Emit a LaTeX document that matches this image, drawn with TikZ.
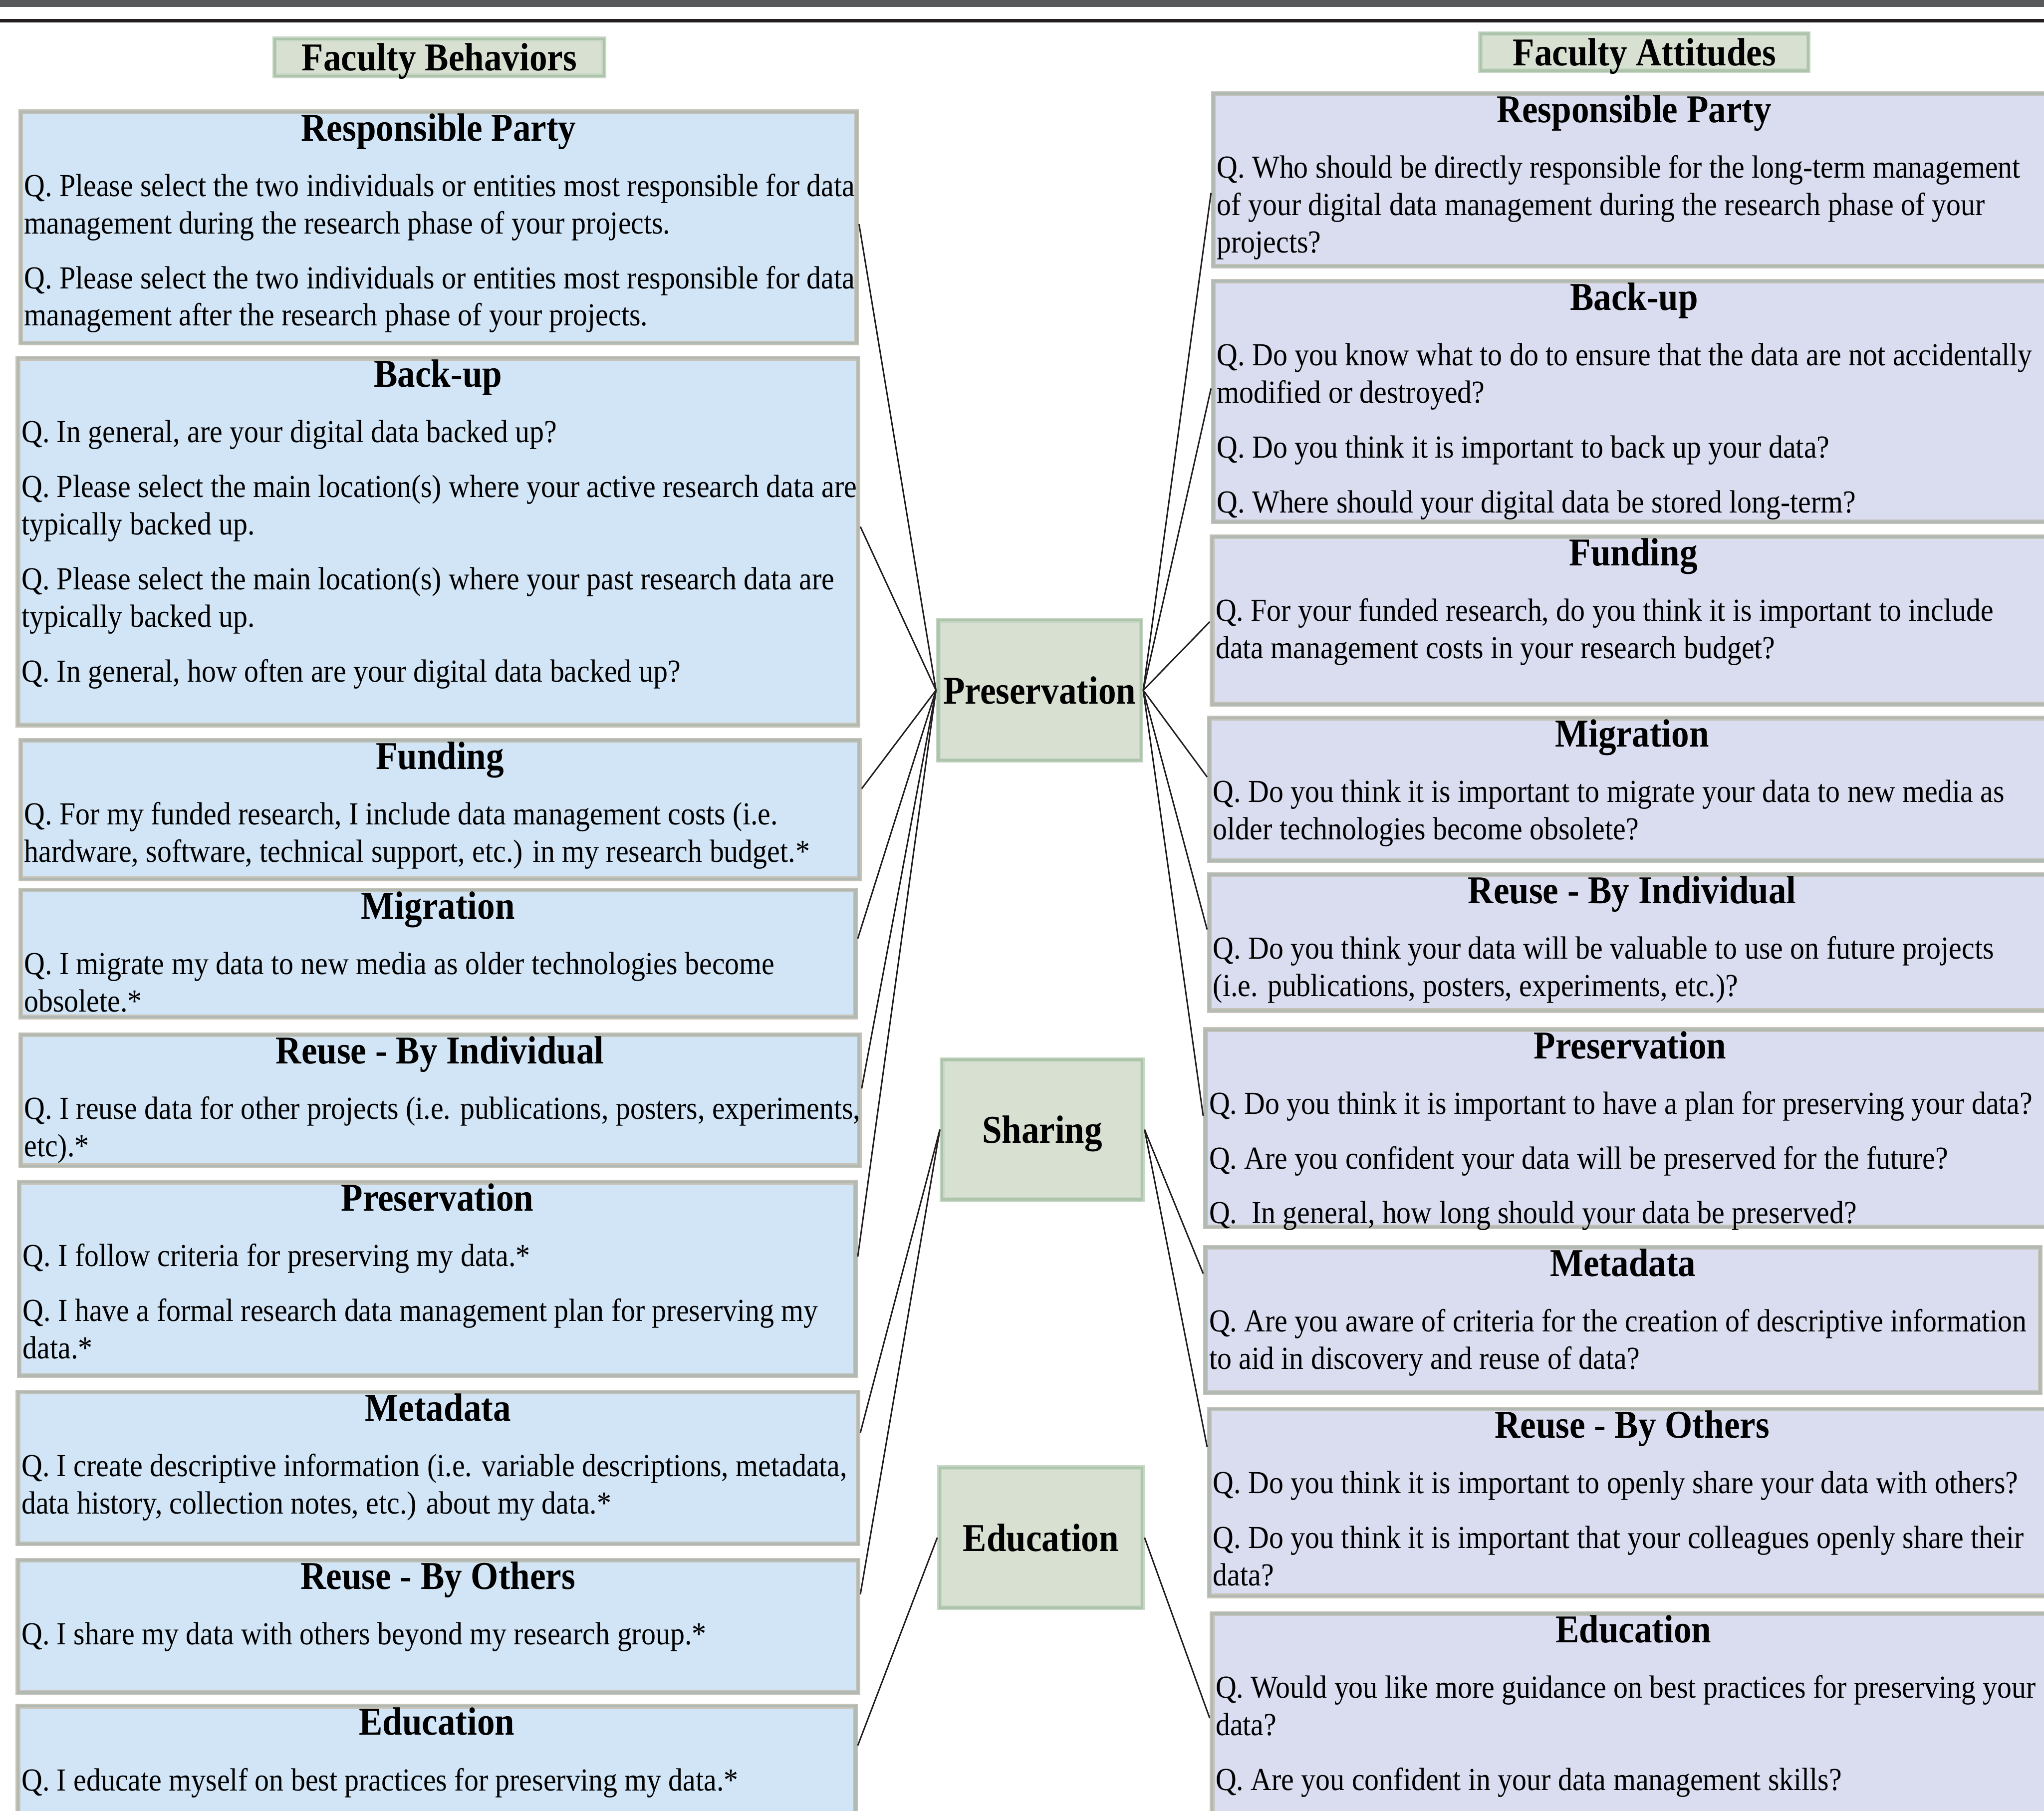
\documentclass[tikz,border=0pt]{standalone}
\usepackage{fontspec}
\setmainfont{Liberation Serif}[FakeStretch=0.9]
\usepackage{tikz}
\usepackage{xcolor}

\definecolor{barGray}{HTML}{58595B}
\definecolor{barBlack}{HTML}{231F20}
\definecolor{leftFill}{HTML}{D1E5F6}
\definecolor{rightFill}{HTML}{DADDF0}
\definecolor{greenFill}{HTML}{D8E0D2}
\definecolor{greenLight}{HTML}{C6D8C5}
\definecolor{greenDark}{HTML}{ADC4AA}
\definecolor{boxTan}{HTML}{C7C2B6}
\definecolor{boxGray}{HTML}{B1B9B5}

\newlength{\pxu}
\setlength{\pxu}{0.025cm}

\begin{document}
\begin{tikzpicture}[
            x = 0.025cm, y = -0.025cm, % one unit = one pixel, y runs down
            line width = 0.8pt, % line style
            every edge/.style = {draw = barBlack}
        ]

        \tikzstyle{qbox}=[
            draw = boxTan, double = boxGray,
            line width = 0.9\pxu, double distance = 1.8\pxu,
            outer sep = 1.8\pxu, inner sep = 0pt,
            anchor = north west
        ]
        \tikzstyle{lbox}=[qbox, fill = leftFill]
        \tikzstyle{rbox}=[qbox, fill = rightFill]
        \tikzstyle{gbox}=[
            draw = greenLight, double = greenDark,
            line width = 0.9\pxu, double distance = 1.8\pxu,
            outer sep = 1.8\pxu, inner sep = 0pt,
            fill = greenFill, anchor = north west,
            font = \fontsize{21.5}{24}\selectfont\bfseries,
            text height = 14.7pt, text depth = 0pt
        ]
        \tikzstyle{ttl}=[
            anchor = base, inner sep = 0pt, yshift = -24\pxu,
            font = \fontsize{21.5}{24}\selectfont\bfseries
        ]
        \tikzstyle{qtext}=[
            anchor = north west, inner sep = 0pt, align = left,
            xshift = 4\pxu, yshift = -47.7\pxu,
            font = \fontsize{17.5}{20.4}\selectfont
        ]

\useasboundingbox (0,0) rectangle (1568,1389);
\clip (0,0) rectangle (1568,1389);

% top rules
\fill[barGray] (0,0) rectangle (1568,5.2);
\fill[barBlack] (0,14.4) rectangle (1568,17.2);

% headings
\node[gbox, minimum width=252.4\pxu, minimum height=28.4\pxu] (hFB) at (209,28) {Faculty Behaviors};
\node[gbox, minimum width=251.4\pxu, minimum height=28.4\pxu] (hFA) at (1134,24) {Faculty Attitudes};

% centre themes
\node[gbox, minimum width=155.4\pxu, minimum height=107.4\pxu] (cPR) at (718,474) {Preservation};
\node[gbox, minimum width=153.4\pxu, minimum height=107.4\pxu] (cSH) at (721,811) {Sharing};
\node[gbox, minimum width=155.4\pxu, minimum height=107.4\pxu] (cED) at (719,1124) {Education};

% behaviours
\node[lbox, minimum width=641.4\pxu, minimum height=177.4\pxu] (lRP) at (14,84) {};
\node[ttl] at (lRP.north) {Responsible Party};
\node[qtext] at (lRP.north west) {\rule{0pt}{13pt}Q. Please select the two individuals or entities most responsible for data\\
management during the research phase of your projects.\\[9.5pt]
Q. Please select the two individuals or entities most responsible for data\\
management after the research phase of your projects.};

\node[lbox, minimum width=644.4\pxu, minimum height=281.4\pxu] (lBU) at (12,273) {};
\node[ttl] at (lBU.north) {Back-up};
\node[qtext] at (lBU.north west) {\rule{0pt}{13pt}Q. In general, are your digital data backed up?\\[9.5pt]
Q. Please select the main location(s) where your active research data are\\
typically backed up.\\[9.5pt]
Q. Please select the main location(s) where your past research data are\\
typically backed up.\\[9.5pt]
Q. In general, how often are your digital data backed up?};

\node[lbox, minimum width=643.4\pxu, minimum height=106.4\pxu] (lFU) at (14,566) {};
\node[ttl] at (lFU.north) {Funding};
\node[qtext] at (lFU.north west) {\rule{0pt}{13pt}Q. For my funded research, I include data management costs (i.e.\\
hardware, software, technical support, etc.) in my research budget.*};

\node[lbox, minimum width=640.4\pxu, minimum height=97.4\pxu] (lMI) at (14,681) {};
\node[ttl] at (lMI.north) {Migration};
\node[qtext] at (lMI.north west) {\rule{0pt}{13pt}Q. I migrate my data to new media as older technologies become\\
obsolete.*};

\node[lbox, minimum width=643.4\pxu, minimum height=100.4\pxu] (lRI) at (14,792) {};
\node[ttl] at (lRI.north) {Reuse - By Individual};
\node[qtext] at (lRI.north west) {\rule{0pt}{13pt}Q. I reuse data for other projects (i.e. publications, posters, experiments,\\
etc).*};

\node[lbox, minimum width=641.4\pxu, minimum height=148.4\pxu] (lPR) at (13,905) {};
\node[ttl] at (lPR.north) {Preservation};
\node[qtext] at (lPR.north west) {\rule{0pt}{13pt}Q. I follow criteria for preserving my data.*\\[9.5pt]
Q. I have a formal research data management plan for preserving my\\
data.*};

\node[lbox, minimum width=644.4\pxu, minimum height=116.4\pxu] (lME) at (12,1066) {};
\node[ttl] at (lME.north) {Metadata};
\node[qtext] at (lME.north west) {\rule{0pt}{13pt}Q. I create descriptive information (i.e. variable descriptions, metadata,\\
data history, collection notes, etc.) about my data.*};

\node[lbox, minimum width=644.4\pxu, minimum height=101.4\pxu] (lRO) at (12,1195) {};
\node[ttl] at (lRO.north) {Reuse - By Others};
\node[qtext] at (lRO.north west) {\rule{0pt}{13pt}Q. I share my data with others beyond my research group.*};

\node[lbox, minimum width=642.4\pxu, minimum height=116.4\pxu] (lED) at (12,1307) {};
\node[ttl] at (lED.north) {Education};
\node[qtext] at (lED.north west) {\rule{0pt}{13pt}Q. I educate myself on best practices for preserving my data.*};

% attitudes
\node[rbox, minimum width=645.4\pxu, minimum height=132.4\pxu] (rRP) at (929,70) {};
\node[ttl] at (rRP.north) {Responsible Party};
\node[qtext] at (rRP.north west) {\rule{0pt}{13pt}Q. Who should be directly responsible for the long-term management\\
of your digital data management during the research phase of your\\
projects?};

\node[rbox, minimum width=645.4\pxu, minimum height=184.4\pxu] (rBU) at (929,214) {};
\node[ttl] at (rBU.north) {Back-up};
\node[qtext] at (rBU.north west) {\rule{0pt}{13pt}Q. Do you know what to do to ensure that the data are not accidentally\\
modified or destroyed?\\[9.5pt]
Q. Do you think it is important to back up your data?\\[9.5pt]
Q. Where should your digital data be stored long-term?};

\node[rbox, minimum width=646.4\pxu, minimum height=128.4\pxu] (rFU) at (928,410) {};
\node[ttl] at (rFU.north) {Funding};
\node[qtext] at (rFU.north west) {\rule{0pt}{13pt}Q. For your funded research, do you think it is important to include\\
data management costs in your research budget?};

\node[rbox, minimum width=648.4\pxu, minimum height=109.4\pxu] (rMI) at (926,549) {};
\node[ttl] at (rMI.north) {Migration};
\node[qtext] at (rMI.north west) {\rule{0pt}{13pt}Q. Do you think it is important to migrate your data to new media as\\
older technologies become obsolete?};

\node[rbox, minimum width=648.4\pxu, minimum height=104.4\pxu] (rRI) at (926,669) {};
\node[ttl] at (rRI.north) {Reuse - By Individual};
\node[qtext] at (rRI.north west) {\rule{0pt}{13pt}Q. Do you think your data will be valuable to use on future projects\\
(i.e. publications, posters, experiments, etc.)?};

\node[rbox, minimum width=651.4\pxu, minimum height=151.4\pxu] (rPR) at (923,788) {};
\node[ttl] at (rPR.north) {Preservation};
\node[qtext] at (rPR.north west) {\rule{0pt}{13pt}Q. Do you think it is important to have a plan for preserving your data?\\[9.5pt]
Q. Are you confident your data will be preserved for the future?\\[9.5pt]
Q.\ \ In general, how long should your data be preserved?};

\node[rbox, minimum width=640.4\pxu, minimum height=111.4\pxu] (rME) at (923,955) {};
\node[ttl] at (rME.north) {Metadata};
\node[qtext] at (rME.north west) {\rule{0pt}{13pt}Q. Are you aware of criteria for the creation of descriptive information\\
to aid in discovery and reuse of data?};

\node[rbox, minimum width=648.4\pxu, minimum height=143.4\pxu] (rRO) at (926,1079) {};
\node[ttl] at (rRO.north) {Reuse - By Others};
\node[qtext] at (rRO.north west) {\rule{0pt}{13pt}Q. Do you think it is important to openly share your data with others?\\[9.5pt]
Q. Do you think it is important that your colleagues openly share their\\
data?};

\node[rbox, minimum width=646.4\pxu, minimum height=166.4\pxu] (rED) at (928,1236) {};
\node[ttl] at (rED.north) {Education};
\node[qtext] at (rED.north west) {\rule{0pt}{13pt}Q. Would you like more guidance on best practices for preserving your\\
data?\\[9.5pt]
Q. Are you confident in your data management skills?};

% connectors
\path (cPR.west) edge (lRP.east |- 0,172)
                 edge (lBU.east |- 0,404)
                 edge (lFU.east |- 0,605)
                 edge (lMI.east |- 0,720)
                 edge (lRI.east |- 0,835)
                 edge (lPR.east |- 0,964);
\path (cSH.west) edge (lME.east |- 0,1099)
                 edge (lRO.east |- 0,1223);
\path (cED.west) edge (lED.east |- 0,1339);

\path (cPR.east) edge (rRP.west |- 0,148)
                 edge (rBU.west |- 0,298)
                 edge (rFU.west |- 0,477)
                 edge (rMI.west |- 0,596)
                 edge (rRI.west |- 0,713)
                 edge (rPR.west |- 0,856);
\path (cSH.east) edge (rME.west |- 0,977)
                 edge (rRO.west |- 0,1110);
\path (cED.east) edge (rED.west |- 0,1318);
\end{tikzpicture}
\end{document}
